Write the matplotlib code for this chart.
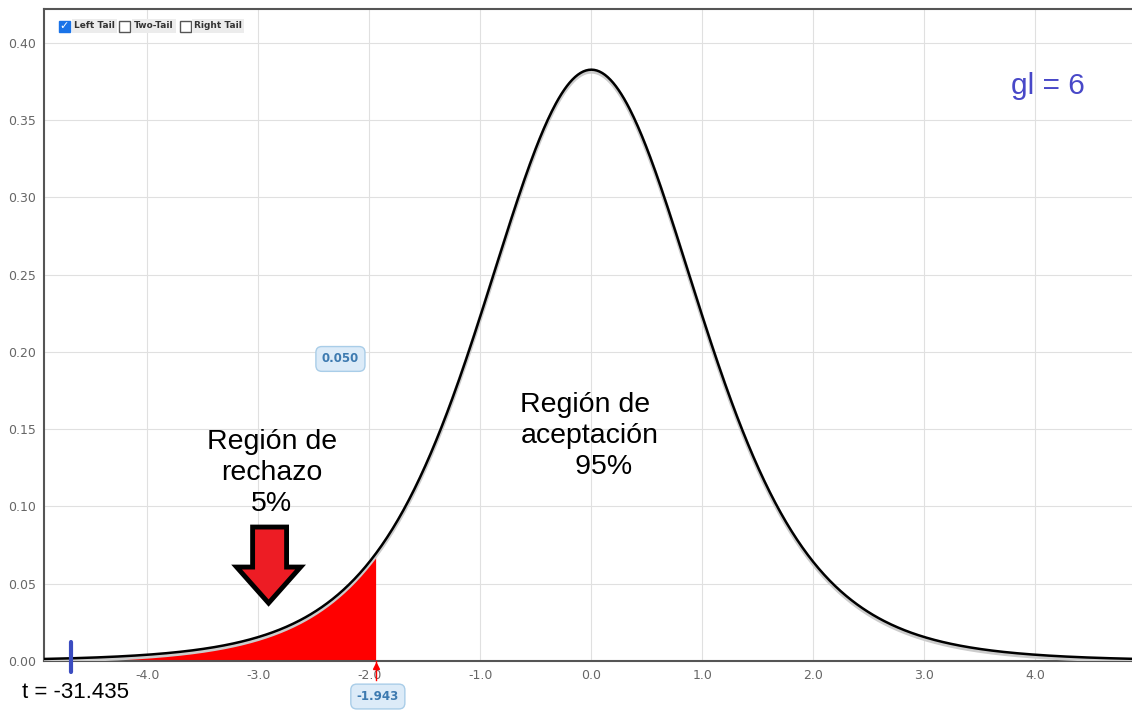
import numpy as np
import matplotlib.pyplot as plt
from matplotlib.patches import Polygon, Rectangle

# t distribution, left tail test
df = 6
alpha = 0.050
t_crit = -1.943
t_stat = -31.435
t_marker = -4.69          # where the blue mark sits (t is off the scale)

x_ticks = [-4.0, -3.0, -2.0, -1.0, 0.0, 1.0, 2.0, 3.0, 4.0]
y_ticks = [0.00, 0.05, 0.10, 0.15, 0.20, 0.25, 0.30, 0.35, 0.40]
checkboxes = ["Left Tail", "Two-Tail", "Right Tail"]
checked = [True, False, False]

x_min, x_max = -4.93, 4.87


def t_pdf(x, v):
    from math import gamma, sqrt, pi
    c = gamma((v + 1) / 2) / (sqrt(v * pi) * gamma(v / 2))
    return c * (1 + x ** 2 / v) ** (-(v + 1) / 2)


xs = np.linspace(x_min, x_max, 800)
ys = t_pdf(xs, df)

fig = plt.figure(figsize=(11.32, 7.11), dpi=100)
ax = fig.add_axes([44 / 1132, 1 - 661 / 711, 1 - 44 / 1132, (661 - 9) / 711])
ax.set_xlim(x_min, x_max)
ax.set_ylim(0, 0.422)

# rejection region
xt = xs[xs <= t_crit]
xt = np.append(xt, t_crit)
ax.fill_between(xt, 0, t_pdf(xt, df), color="#ff0000", lw=0, zorder=2)

# curve with light shadow
ax.plot(xs, ys - 0.0012, color="#cccccc", lw=3, zorder=3)
ax.plot(xs, ys, color="black", lw=1.8, zorder=4)

ax.set_xticks(x_ticks)
ax.set_xticklabels([f"{v:.1f}" for v in x_ticks])
ax.set_yticks(y_ticks)
ax.set_yticklabels([f"{v:.2f}" for v in y_ticks])
ax.tick_params(colors="#666666", labelsize=9, length=0, pad=6)
ax.grid(True, color="#e0e0e0", lw=0.8)
ax.set_axisbelow(True)
for s in ["left", "bottom", "top"]:
    ax.spines[s].set_color("#555555")
    ax.spines[s].set_linewidth(1.5)
ax.spines["right"].set_visible(False)

# blue mark for the test statistic
ax.plot([t_marker, t_marker], [-0.007, 0.0125], color="#3b4cc0", lw=3,
        solid_capstyle="round", clip_on=False, zorder=6)

# small red marker at the critical value
ax.plot([t_crit, t_crit], [0, -0.012], color="red", lw=1, clip_on=False, zorder=6)
ax.plot([t_crit], [-0.003], marker="^", color="red", ms=5, clip_on=False, zorder=6)

box = dict(boxstyle="round,pad=0.5", fc="#dcebf8", ec="#a9cde8", lw=1)
ax.text(-2.26, 0.1955, f"{alpha:.3f}", ha="center", va="center", fontsize=8.5,
        color="#3d7ab0", fontweight="bold", bbox=box)
ax.text(t_crit + 0.02, -0.023, f"{t_crit:.3f}", ha="center", va="center", fontsize=8.5,
        color="#3d7ab0", fontweight="bold", bbox=box, clip_on=False)

# block arrow pointing into the rejection region
arrow = Polygon([[-3.051, 0.0867], [-2.745, 0.0867], [-2.745, 0.0608],
                 [-2.619, 0.0608], [-2.907, 0.0375], [-3.195, 0.0608],
                 [-3.051, 0.0608]], closed=True, fc="#ed1c24", ec="black",
                lw=3.5, joinstyle="miter", zorder=7)
ax.add_patch(arrow)

note_font = "Liberation Sans"
ax.text(-2.88, 0.1217, "Región de\nrechazo\n5%", ha="center", va="center",
        fontsize=20.5, linespacing=1.25, zorder=8, family=note_font)
ax.text(-0.64, 0.1455, "Región de\naceptación\n       95%", ha="left", va="center",
        fontsize=20.5, linespacing=1.25, zorder=8, family=note_font)
ax.text(3.78, 0.372, f"gl = {df}", ha="left", va="center", fontsize=21.5,
        color="#4848c8", family=note_font)

fig.text(22 / 1132, 1 - 693 / 711, f"t = {t_stat:.3f}", ha="left", va="center",
         fontsize=16, family=note_font)

# checkbox row
cx = [59, 119, 180]
tx = [74, 134, 194]
for i, lab in enumerate(checkboxes):
    fx = cx[i] / 1132
    fy = 1 - 32 / 711
    fc = "#1a73e8" if checked[i] else "white"
    ec = "#1a73e8" if checked[i] else "#555555"
    fig.patches.append(Rectangle((fx, fy), 11 / 1132, 11 / 711, transform=fig.transFigure,
                                 fc=fc, ec=ec, lw=1))
    if checked[i]:
        fig.text(fx + 5.5 / 1132, fy + 5.5 / 711, "✓", color="white", fontsize=8,
                 ha="center", va="center", fontweight="bold")
    fig.text(tx[i] / 1132, 1 - 26 / 711, lab, fontsize=6.5, color="#333333",
             fontweight="bold", ha="left", va="center",
             bbox=dict(boxstyle="square,pad=0.25", fc="#ececec", ec="none"))

fig.savefig("out.png", dpi=100)
